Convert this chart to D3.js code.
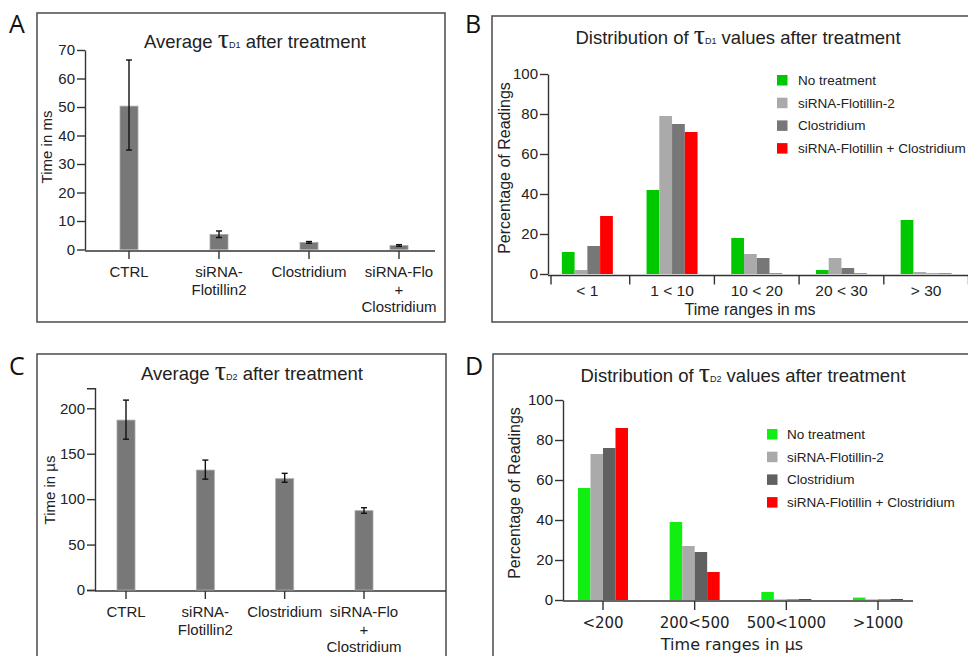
<!DOCTYPE html>
<html>
<head>
<meta charset="utf-8">
<script src="https://cdn.jsdelivr.net/npm/d3@7"></script>
<style>
  body { margin: 0; background: #fff; }
  svg { display: block; font-family: "Liberation Sans", Arial, sans-serif; }
  .frame { fill: none; stroke: #555; stroke-width: 1.6; }
  .axis path, .axis line { stroke: #333; stroke-width: 1.4; }
  .axis text { fill: #222; font-size: 15px; font-family: "Liberation Sans", Arial, sans-serif; }
  .letter { font-family: "Open Sans", sans-serif; font-size: 25px; fill: #111; }
  .title { font-size: 18.5px; fill: #222; }
  .label { font-size: 15.5px; fill: #222; }
  .legend text { font-size: 13.5px; fill: #222; }
</style>
</head>
<body>
<div id="wrapper"></div>
<script>
// averages (panels A and C)
const avgLabels = ["CTRL", "siRNA-\nFlotillin2", "Clostridium", "siRNA-Flo\n+\nClostridium"]
const tauD1Mean = [50.3, 5.3, 2.5, 1.4]
const tauD1Low = [34.9, 4.2, 2.2, 1.1]
const tauD1High = [66.5, 6.5, 2.8, 1.7]
const tauD2Mean = [187, 132, 122.5, 87.3]
const tauD2Low = [166, 122, 118.6, 84.4]
const tauD2High = [209, 143, 128.4, 90.6]

// distributions (panels B and D)
const seriesNames = ["No treatment", "siRNA-Flotillin-2", "Clostridium", "siRNA-Flotillin + Clostridium"]
const rangesD1 = ["< 1", "1 < 10", "10 < 20", "20 < 30", "> 30"]
const noTreatD1 = [11, 42, 18, 2, 27]
const siFloD1 = [2, 79, 10, 8, 1]
const clostD1 = [14, 75, 8, 3, 0.3]
const comboD1 = [29, 71, 0.3, 0.3, 0.3]
const rangesD2 = ["<200", "200<500", "500<1000", ">1000"]
const noTreatD2 = [56, 39, 4, 1.2]
const siFloD2 = [73, 27, 0.3, 0.3]
const clostD2 = [76, 24, 0.3, 0.3]
const comboD2 = [86, 14, 0.5, 0.5]

const svg = d3.select("#wrapper").append("svg")
    .attr("width", 968)
    .attr("height", 656)

const addTitle = (x, y, before, sub, after) => {
  const t = svg.append("text")
      .attr("class", "title")
      .attr("x", x)
      .attr("y", y)
      .attr("text-anchor", "middle")
  t.append("tspan").text(before)
  t.append("tspan").text("τ")
      .style("font-family", "'Liberation Serif', serif")
      .style("font-size", "28px")
  t.append("tspan").text(sub).style("font-size", "9px")
  t.append("tspan").text(after)
}

function drawAverage(cfg) {
  svg.append("rect").attr("class", "frame")
      .attr("x", cfg.frame[0]).attr("y", cfg.frame[1])
      .attr("width", cfg.frame[2]).attr("height", cfg.frame[3])
  svg.append("text").attr("class", "letter")
      .attr("x", cfg.letterPos[0]).attr("y", cfg.letterPos[1])
      .text(cfg.letter)
  addTitle(cfg.titlePos[0], cfg.titlePos[1], "Average ", cfg.sub, cfg.afterTitle)

  const y = d3.scaleLinear().domain(cfg.yDomain).range(cfg.yRange)
  const x = d3.scalePoint().domain(avgLabels).range(cfg.xRange)

  svg.append("g").attr("class", "axis")
      .attr("transform", `translate(${cfg.yAxisX},0)`)
      .call(d3.axisLeft(y).tickValues(cfg.yTicks).tickSize(8).tickSizeOuter(cfg.outer).tickPadding(2))

  const xAxis = svg.append("g").attr("class", "axis")
      .attr("transform", `translate(0,${cfg.xAxisY})`)
  xAxis.append("line")
      .attr("x1", cfg.yAxisX).attr("x2", cfg.xAxisEnd)
  avgLabels.forEach(c => {
    xAxis.append("line").attr("x1", x(c)).attr("x2", x(c)).attr("y2", 8)
    const t = xAxis.append("text")
        .attr("class", "label")
        .attr("text-anchor", "middle")
        .attr("y", 26)
    c.split("\n").forEach((line, i) => {
      t.append("tspan").attr("x", x(c)).attr("dy", i ? 17.5 : 0).text(line)
    })
  })

  const barW = 18
  svg.append("g").selectAll("rect")
    .data(cfg.mean)
    .join("rect")
      .attr("x", (d, i) => x(avgLabels[i]) - barW / 2)
      .attr("y", d => y(d))
      .attr("width", barW)
      .attr("height", d => y(0) - y(d))
      .attr("fill", "#787878")
      .attr("stroke", "#a8a8a8")
      .attr("stroke-width", 0.8)

  const err = svg.append("g").attr("stroke", "#111").attr("stroke-width", 1.4)
  cfg.mean.forEach((d, i) => {
    const cx = x(avgLabels[i])
    err.append("line").attr("x1", cx).attr("x2", cx)
        .attr("y1", y(cfg.low[i])).attr("y2", y(cfg.high[i]))
    ;[cfg.low[i], cfg.high[i]].forEach(v => {
      err.append("line").attr("x1", cx - 3).attr("x2", cx + 3)
          .attr("y1", y(v)).attr("y2", y(v))
    })
  })

  svg.append("text").attr("class", "label")
      .attr("transform", `translate(${cfg.yTitlePos[0]},${cfg.yTitlePos[1]}) rotate(-90)`)
      .attr("text-anchor", "middle")
      .style("font-size", "15px")
      .text(cfg.yTitle)
}

function drawDistribution(cfg) {
  svg.append("rect").attr("class", "frame")
      .attr("x", cfg.frame[0]).attr("y", cfg.frame[1])
      .attr("width", cfg.frame[2]).attr("height", cfg.frame[3])
  svg.append("text").attr("class", "letter")
      .attr("x", cfg.letterPos[0]).attr("y", cfg.letterPos[1])
      .text(cfg.letter)
  addTitle(cfg.titlePos[0], cfg.titlePos[1], "Distribution of ", cfg.sub, " values after treatment")

  const y = d3.scaleLinear().domain([0, 100]).range(cfg.yRange)
  const x = cfg.band
    ? d3.scaleBand().domain(cfg.ranges).range(cfg.xRange)
    : d3.scalePoint().domain(cfg.ranges).range(cfg.xRange)
  const center = c => cfg.band ? x(c) + x.bandwidth() / 2 : x(c)

  svg.append("g").attr("class", "axis")
      .attr("transform", `translate(${cfg.yAxisX},0)`)
      .call(d3.axisLeft(y).ticks(5).tickSize(8).tickSizeOuter(0).tickPadding(2))

  const xAxis = svg.append("g").attr("class", "axis")
      .attr("transform", `translate(0,${cfg.xAxisY})`)
  xAxis.append("line").attr("x1", cfg.yAxisX).attr("x2", cfg.xAxisEnd)
  const tickXs = cfg.band
    ? [...cfg.ranges.map(c => x(c)), x.range()[1]].map((v, i) => i ? v : cfg.firstTick)
    : cfg.ranges.map(c => x(c))
  tickXs.forEach(v => {
    xAxis.append("line").attr("x1", v).attr("x2", v).attr("y2", 9)
  })
  cfg.ranges.forEach(c => {
    xAxis.append("text")
        .attr("class", "label")
        .attr("x", center(c))
        .attr("y", cfg.labelDy)
        .attr("text-anchor", "middle")
        .style("font-family", cfg.labelFont)
        .style("font-size", cfg.labelSize)
        .text(c)
  })

  const inner = d3.scaleBand().domain(seriesNames).range([-cfg.groupW / 2, cfg.groupW / 2])
  cfg.series.forEach((values, s) => {
    svg.append("g").selectAll("rect")
      .data(values)
      .join("rect")
        .attr("x", (d, i) => center(cfg.ranges[i]) + inner(seriesNames[s]))
        .attr("y", d => y(d))
        .attr("width", inner.bandwidth())
        .attr("height", d => y(0) - y(d))
        .attr("fill", cfg.colors[s])
  })

  const legend = svg.append("g").attr("class", "legend")
      .attr("transform", `translate(${cfg.legendPos[0]},${cfg.legendPos[1]})`)
  seriesNames.forEach((name, i) => {
    legend.append("rect")
        .attr("x", 0).attr("y", i * 22.7 - 5)
        .attr("width", 10.5).attr("height", 10.5)
        .attr("fill", cfg.colors[i])
    legend.append("text")
        .attr("x", cfg.legendTextDx).attr("y", i * 22.7 + 5)
        .text(name)
  })

  svg.append("text").attr("class", "label")
      .attr("transform", `translate(${cfg.yTitlePos[0]},${cfg.yTitlePos[1]}) rotate(-90)`)
      .attr("text-anchor", "middle")
      .style("font-size", "16px")
      .text("Percentage of Readings")
  svg.append("text").attr("class", "label")
      .attr("x", cfg.xTitlePos[0]).attr("y", cfg.xTitlePos[1])
      .attr("text-anchor", "middle")
      .style("font-family", cfg.labelFont)
      .style("font-size", "16px")
      .text(cfg.xTitle)
}

// A
drawAverage({
  letter: "A", letterPos: [9, 33], frame: [37, 13, 408, 309],
  titlePos: [255, 48], sub: "D1", afterTitle: " after treatment",
  yDomain: [0, 70], yRange: [249.5, 50], yTicks: d3.range(0, 71, 10), outer: 0,
  yAxisX: 85, xRange: [129, 399], xAxisY: 251, xAxisEnd: 435,
  mean: tauD1Mean, low: tauD1Low, high: tauD1High,
  yTitle: "Time in ms", yTitlePos: [52, 147],
})

// C
drawAverage({
  letter: "C", letterPos: [9, 375], frame: [37, 354, 409, 320],
  titlePos: [252, 380], sub: "D2", afterTitle: " after treatment",
  yDomain: [0, 222], yRange: [590, 388.3], yTicks: d3.range(0, 201, 50), outer: 8,
  yAxisX: 95, xRange: [126, 364], xAxisY: 591, xAxisEnd: 446,
  mean: tauD2Mean, low: tauD2Low, high: tauD2High,
  yTitle: "Time in µs", yTitlePos: [55, 490],
})

// B
drawDistribution({
  letter: "B", letterPos: [465, 33], frame: [492, 16, 490, 306],
  titlePos: [738, 44], sub: "D1",
  yRange: [274, 74], yAxisX: 548,
  band: true, ranges: rangesD1, xRange: [545, 968.5], firstTick: 551,
  xAxisY: 275.5, xAxisEnd: 968, labelDy: 20, labelFont: null, labelSize: "15.5px",
  groupW: 51, series: [noTreatD1, siFloD1, clostD1, comboD1],
  colors: ["#00c800", "#aaaaaa", "#777777", "#ff0000"],
  legendPos: [777, 80], legendTextDx: 21,
  yTitlePos: [510, 168], xTitle: "Time ranges in ms", xTitlePos: [750, 315],
})

// D
drawDistribution({
  letter: "D", letterPos: [465, 375], frame: [493, 354, 490, 320],
  titlePos: [743, 382], sub: "D2",
  yRange: [600, 400], yAxisX: 563,
  band: false, ranges: rangesD2, xRange: [603, 878],
  xAxisY: 601, xAxisEnd: 913, labelDy: 27, labelFont: "'DejaVu Sans', sans-serif", labelSize: "15px",
  groupW: 50, series: [noTreatD2, siFloD2, clostD2, comboD2],
  colors: ["#11ee11", "#aaaaaa", "#606060", "#ff0000"],
  legendPos: [767, 434], legendTextDx: 20,
  yTitlePos: [520, 493], xTitle: "Time ranges in µs", xTitlePos: [732, 650],
})
</script>
</body>
</html>
